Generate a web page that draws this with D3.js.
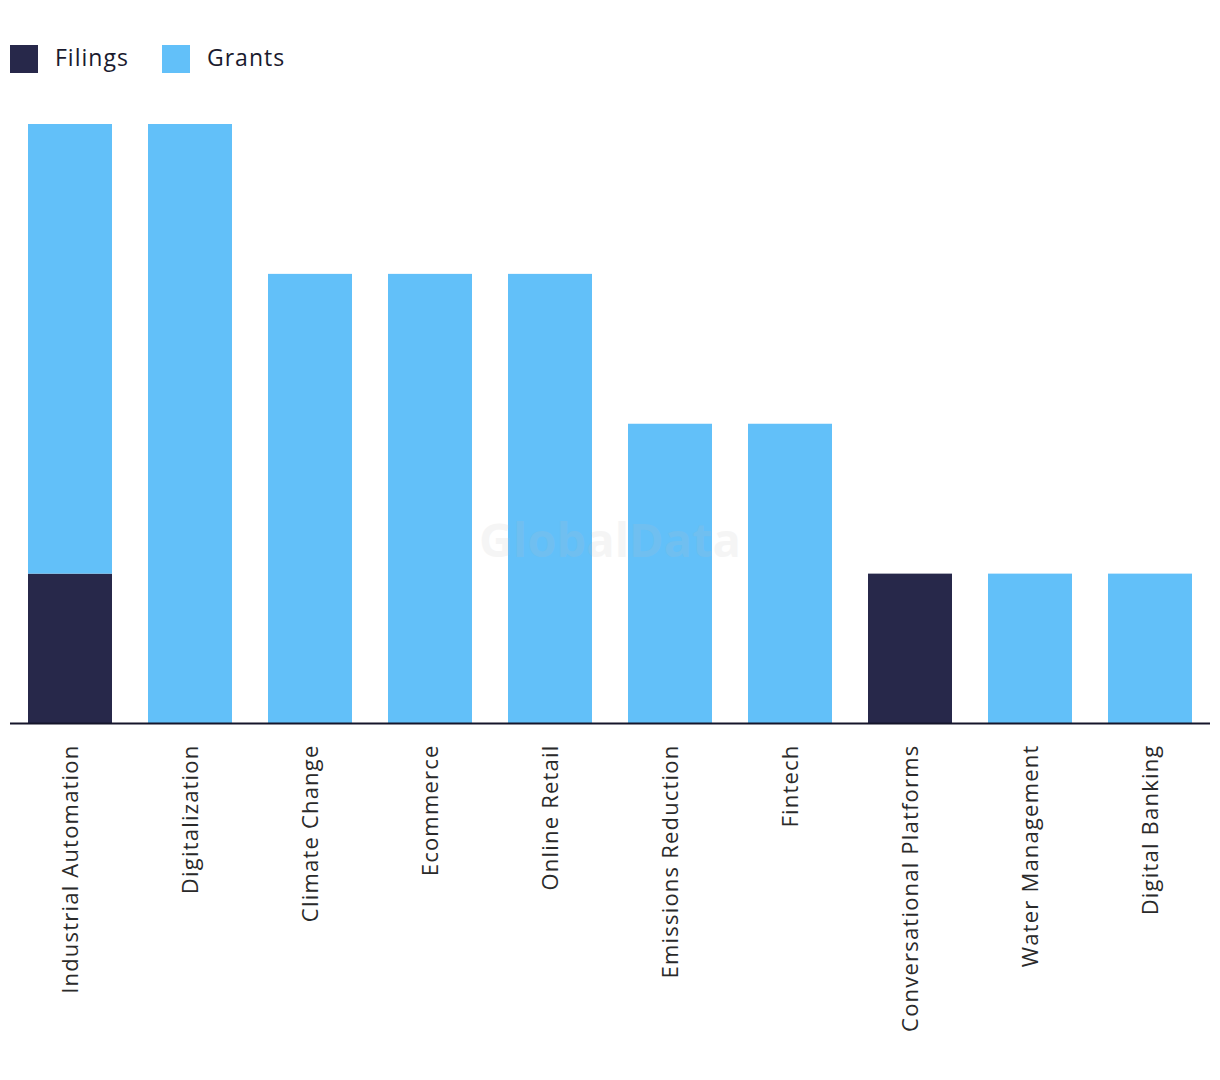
<!DOCTYPE html>
<html><head><meta charset="utf-8">
<script src="https://cdn.jsdelivr.net/npm/d3@7"></script>
<style>body{margin:0;background:#fff}</style>
</head><body>
<script>
const categories = ["Industrial Automation","Digitalization","Climate Change","Ecommerce","Online Retail","Emissions Reduction","Fintech","Conversational Platforms","Water Management","Digital Banking"];
const filings = [1,0,0,0,0,0,0,1,0,0];
const grants  = [3,4,3,3,3,2,2,0,1,1];
const seriesNames = ["Filings","Grants"];
const colors = ["#27284a","#62c0f9"];

const W=1220,H=1080;
const svg=d3.select("body").append("svg").attr("width",W).attr("height",H);
const font="'Open Sans', sans-serif";

const x=d3.scaleBand().domain(categories).range([10,1210]).paddingInner(0.3).paddingOuter(0.15);
const y=d3.scaleLinear().domain([0,4]).range([723.5,124]);

const data=categories.map((c,i)=>({cat:c,Filings:filings[i],Grants:grants[i]}));
const stack=d3.stack().keys(seriesNames)(data);
svg.append("g").selectAll("g").data(stack).join("g").attr("fill",(d,i)=>colors[i])
  .selectAll("rect").data(d=>d).join("rect")
  .attr("x",d=>x(d.data.cat)).attr("width",x.bandwidth())
  .attr("y",d=>y(d[1])).attr("height",d=>y(d[0])-y(d[1]));

// watermark
svg.append("text").attr("x",610).attr("y",557).attr("text-anchor","middle")
  .attr("font-family",font).attr("font-weight",700).attr("font-size",47)
  .attr("fill","#bebebe").attr("opacity",0.15).text("GlobalData");

// axis
const ax=svg.append("g").attr("transform","translate(0,723.5)").call(d3.axisBottom(x).tickSize(0).tickPadding(0));
ax.select(".domain").attr("stroke","#15152a").attr("stroke-width",2).attr("d","M10,0H1210");
ax.selectAll(".tick text").attr("font-family",font).attr("font-size",22).attr("fill","#2a2a2a")
  .attr("letter-spacing",1.2)
  .attr("transform","rotate(-90)").attr("text-anchor","end").attr("x",-21).attr("y",0).attr("dy","0.35em");

// legend
const lg=svg.append("g");
seriesNames.forEach((n,i)=>{
  const ox=[10,162][i];
  lg.append("rect").attr("x",ox).attr("y",45).attr("width",28).attr("height",28).attr("fill",colors[i]);
  lg.append("text").attr("x",ox+45).attr("y",58).attr("dy","0.35em").attr("font-family",font)
    .attr("font-size",23).attr("letter-spacing",1).attr("fill","#1a1a2e").text(n);
});
</script>
</body></html>
